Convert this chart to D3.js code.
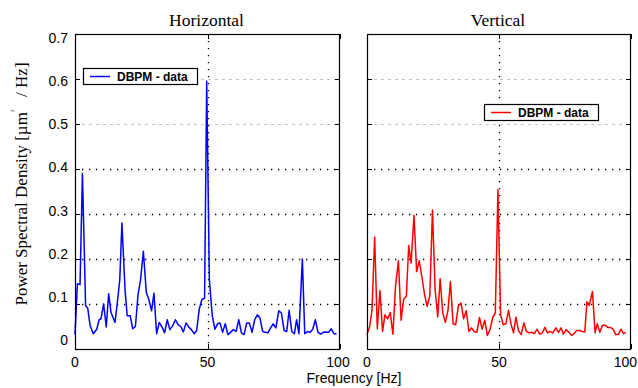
<!DOCTYPE html>
<html>
  <head>
    <meta charset="UTF-8" />
    <style>
      body {
        margin: 0;
        background: #fff;
      }
      .tick-label {
        font-family: "Liberation Sans", Arial, sans-serif;
        font-size: 14px;
      }
      .title {
        font-family: "Liberation Serif", "Times New Roman", serif;
        font-size: 17.5px;
      }
      .legend-text {
        font-family: "Liberation Sans", Arial, sans-serif;
        font-size: 12px;
        font-weight: bold;
      }
    </style>
  </head>
  <body>
    <svg></svg>
    <script src="https://d3js.org/d3.v7.min.js"></script>
    <script>
      // Horizontal PSD
      const hFreq = [0, 0.9, 1.9, 2.8, 4.0, 4.8, 5.7, 6.9, 8.2, 9.1, 9.8, 10.8, 11.8, 12.7, 13.6, 15.1, 16.0, 16.9, 17.7, 18.9, 19.7, 20.8, 21.8, 22.8, 23.8, 24.7, 25.8, 26.9, 27.8, 28.9, 29.8, 30.8, 31.8, 33.0, 33.8, 34.8, 35.8, 36.9, 37.9, 38.9, 39.9, 40.9, 41.9, 42.9, 43.9, 45.0, 45.9, 46.9, 47.9, 48.9, 49.7, 50.7, 51.8, 52.8, 53.8, 54.7, 55.7, 56.7, 57.7, 58.7, 59.7, 60.8, 61.8, 62.8, 63.8, 64.8, 65.8, 66.8, 67.8, 68.8, 69.8, 70.8, 71.8, 72.8, 73.8, 74.8, 75.8, 76.9, 77.9, 78.9, 79.9, 80.8, 81.8, 82.8, 83.6, 84.5, 85.8, 86.7, 87.7, 88.7, 89.7, 90.7, 91.7, 92.7, 93.7, 94.7, 95.7, 96.7, 97.7, 98.7];
      const hPsd = [0.032, 0.145, 0.143, 0.39, 0.096, 0.091, 0.052, 0.034, 0.044, 0.065, 0.067, 0.1, 0.049, 0.123, 0.081, 0.059, 0.104, 0.154, 0.28, 0.13, 0.074, 0.074, 0.045, 0.05, 0.122, 0.152, 0.217, 0.126, 0.111, 0.085, 0.124, 0.034, 0.059, 0.047, 0.036, 0.065, 0.043, 0.052, 0.065, 0.054, 0.05, 0.038, 0.058, 0.049, 0.043, 0.034, 0.041, 0.089, 0.11, 0.113, 0.595, 0.154, 0.074, 0.044, 0.056, 0.058, 0.037, 0.056, 0.032, 0.037, 0.043, 0.039, 0.065, 0.036, 0.032, 0.058, 0.058, 0.037, 0.065, 0.076, 0.069, 0.039, 0.037, 0.036, 0.047, 0.056, 0.047, 0.085, 0.08, 0.041, 0.039, 0.086, 0.039, 0.034, 0.065, 0.034, 0.2, 0.034, 0.039, 0.037, 0.044, 0.065, 0.037, 0.033, 0.037, 0.038, 0.037, 0.045, 0.034, 0.034];

      // Vertical PSD
      const vFreq = [0, 1.0, 1.9, 2.9, 3.9, 4.9, 5.9, 6.8, 7.8, 8.8, 9.8, 10.8, 11.9, 12.9, 13.9, 14.9, 15.8, 16.7, 17.8, 18.8, 19.8, 20.8, 21.8, 22.8, 23.8, 24.8, 25.8, 26.8, 27.7, 28.7, 29.7, 30.7, 31.6, 32.6, 33.6, 34.6, 35.6, 36.6, 37.6, 38.6, 39.6, 40.6, 41.6, 42.6, 43.6, 44.6, 45.6, 46.6, 47.6, 48.6, 49.6, 50.6, 51.6, 52.6, 53.6, 54.6, 55.5, 56.4, 57.4, 58.4, 59.4, 60.4, 61.4, 62.4, 63.4, 64.4, 65.4, 66.4, 67.4, 68.4, 69.4, 70.4, 71.5, 72.5, 73.5, 74.4, 75.4, 76.5, 77.5, 78.4, 79.4, 80.5, 81.5, 82.5, 83.3, 84.2, 85.4, 86.4, 87.2, 88.2, 89.2, 90.2, 91.2, 92.2, 93.2, 94.2, 95.2, 96.2, 97.2, 98.0];
      const vPsd = [0.032, 0.05, 0.087, 0.249, 0.045, 0.13, 0.039, 0.076, 0.067, 0.081, 0.033, 0.139, 0.196, 0.064, 0.111, 0.117, 0.23, 0.191, 0.297, 0.172, 0.196, 0.16, 0.121, 0.095, 0.119, 0.309, 0.132, 0.071, 0.156, 0.08, 0.059, 0.087, 0.15, 0.056, 0.054, 0.096, 0.102, 0.067, 0.085, 0.039, 0.047, 0.039, 0.037, 0.07, 0.044, 0.064, 0.03, 0.043, 0.07, 0.08, 0.354, 0.076, 0.054, 0.056, 0.086, 0.054, 0.036, 0.071, 0.041, 0.032, 0.058, 0.039, 0.036, 0.037, 0.034, 0.044, 0.033, 0.036, 0.048, 0.036, 0.039, 0.036, 0.047, 0.037, 0.047, 0.033, 0.043, 0.037, 0.03, 0.034, 0.041, 0.041, 0.039, 0.038, 0.105, 0.097, 0.128, 0.036, 0.056, 0.037, 0.053, 0.053, 0.048, 0.048, 0.044, 0.032, 0.032, 0.044, 0.034, 0.037];

      const xTicks = [0, 50, 100];
      const yTicks = [0, 0.1, 0.2, 0.3, 0.4, 0.5, 0.6, 0.7];
      const legendLabel = "DBPM - data";

      let width = 638,
        height = 388;
      let plotTop = 34,
        plotBottom = 349;

      let svg = d3.select("svg").attr("width", width).attr("height", height);

      let y = d3.scaleLinear().domain([0, 0.7]).range([plotBottom, plotTop]);
      // tick text in the original sits on a slightly squeezed spacing
      let yLabel = d3.scaleLinear().domain([0, 0.7]).range([340, 38]);

      let panels = [
        { title: "Horizontal", x0: 75, x1: 340, freq: hFreq, psd: hPsd, color: "#0000ff", lx: 83, ly: 68, labels: true },
        { title: "Vertical", x0: 367, x1: 631, freq: vFreq, psd: vPsd, color: "#ff0000", lx: 484, ly: 104, labels: false },
      ];

      panels.forEach((p, pi) => {
        let x = d3.scaleLinear().domain([0, 100]).range([p.x0, p.x1]);
        let g = svg.append("g");

        // grid
        yTicks
          .filter((t) => t > 0 && t < 0.7)
          .forEach((t) => {
            let light = t >= 0.45;
            g.append("line")
              .attr("x1", p.x0)
              .attr("x2", p.x1)
              .attr("y1", Math.round(y(t)) + 0.5)
              .attr("y2", Math.round(y(t)) + 0.5)
              .attr("stroke", light ? "#c4c4c4" : "#000")
              .attr("stroke-width", light ? 1 : 1.3)
              .attr("stroke-dasharray", light ? "3,4" : "1.3,5.7");
          });
        g.append("line")
          .attr("x1", Math.round(x(50)) + 0.5)
          .attr("x2", Math.round(x(50)) + 0.5)
          .attr("y1", plotTop)
          .attr("y2", plotBottom)
          .attr("stroke", "#000")
          .attr("stroke-width", 1.3)
          .attr("stroke-dasharray", "1.3,5.7");

        // tick marks, inward on all sides
        yTicks.forEach((t) => {
          let yy = Math.round(y(t)) + 0.5;
          g.append("line").attr("x1", p.x0).attr("x2", p.x0 + 5).attr("y1", yy).attr("y2", yy).attr("stroke", "#000");
          g.append("line").attr("x1", p.x1 - 5).attr("x2", p.x1).attr("y1", yy).attr("y2", yy).attr("stroke", "#000");
        });
        xTicks.forEach((t) => {
          let xx = Math.round(x(t)) + 0.5;
          g.append("line").attr("x1", xx).attr("x2", xx).attr("y1", plotBottom - 5).attr("y2", plotBottom).attr("stroke", "#000");
          g.append("line").attr("x1", xx).attr("x2", xx).attr("y1", plotTop).attr("y2", plotTop + 5).attr("stroke", "#000");
        });

        // data
        let line = d3
          .line()
          .x((d, i) => x(p.freq[i]))
          .y((d) => y(d));
        g.append("path")
          .datum(p.psd)
          .attr("d", line)
          .attr("fill", "none")
          .attr("stroke", p.color)
          .attr("stroke-width", 1.5)
          .attr("stroke-linejoin", "round");

        // frame
        g.append("rect")
          .attr("x", p.x0 + 0.5)
          .attr("y", plotTop + 0.5)
          .attr("width", p.x1 - p.x0 - 1)
          .attr("height", plotBottom - plotTop)
          .attr("fill", "none")
          .attr("stroke", "#000")
          .attr("stroke-width", 1.2);

        // x tick labels (the last one on the right panel hugs the edge)
        xTicks.forEach((t) => {
          let last = t === 100 && pi === 1;
          g.append("text")
            .attr("class", "tick-label")
            .attr("x", last ? 637 : x(t) - (t === 100 ? 2 : 0))
            .attr("y", 367)
            .attr("text-anchor", last ? "end" : "middle")
            .text(t);
        });

        if (p.labels) {
          yTicks.forEach((t) => {
            g.append("text")
              .attr("class", "tick-label")
              .attr("x", 68)
              .attr("y", yLabel(t))
              .attr("dy", "0.36em")
              .attr("text-anchor", "end")
              .text(t === 0 ? "0" : t.toFixed(1));
          });
        }

        // title
        g.append("text")
          .attr("class", "title")
          .attr("x", (p.x0 + p.x1) / 2 - 1)
          .attr("y", 26)
          .attr("text-anchor", "middle")
          .text(p.title);

        // legend
        let lg = g.append("g").attr("transform", "translate(" + p.lx + "," + p.ly + ")");
        lg.append("rect")
          .attr("x", 0.5)
          .attr("y", 0.5)
          .attr("width", 114)
          .attr("height", 16)
          .attr("fill", "#fff")
          .attr("stroke", "#000")
          .attr("stroke-width", 1.2);
        lg.append("line")
          .attr("x1", 7)
          .attr("x2", 27)
          .attr("y1", 8.5)
          .attr("y2", 8.5)
          .attr("stroke", p.color)
          .attr("stroke-width", 1.5);
        lg.append("text")
          .attr("class", "legend-text")
          .attr("x", 34)
          .attr("y", 13)
          .text(legendLabel);
      });

      // axis titles
      let yt = svg
        .append("text")
        .attr("transform", "translate(27,184) rotate(-90)")
        .attr("text-anchor", "middle")
        .style("white-space", "pre")
        .style("font-family", '"Liberation Serif", "Times New Roman", serif')
        .style("font-size", "17px");
      yt.append("tspan").text("Power Spectral Density [µm");
      yt.append("tspan").attr("dy", -13).style("font-size", "5px").text("2");
      yt.append("tspan").attr("dy", 13).text("   / Hz]");

      svg
        .append("text")
        .attr("x", 354)
        .attr("y", 383)
        .attr("text-anchor", "middle")
        .style("font-family", '"Liberation Sans", Arial, sans-serif')
        .style("font-size", "14px")
        .text("Frequency [Hz]");
    </script>
</body>
</html>
